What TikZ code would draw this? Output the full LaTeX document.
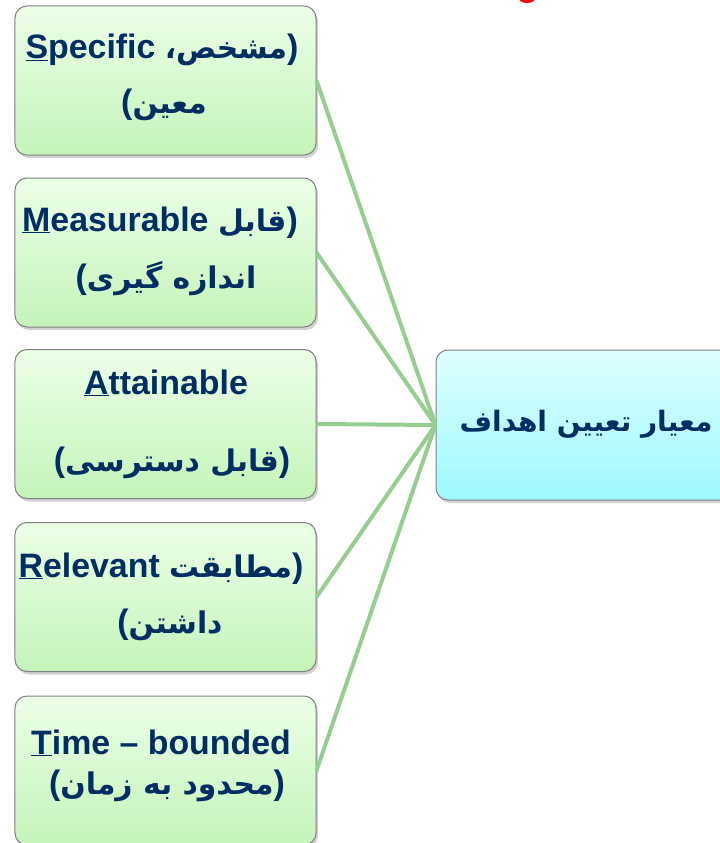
\documentclass[tikz,border=0pt]{standalone}
\usepackage{fontspec}
\setmainfont{Liberation Sans}
\newfontfamily\arfont[Script=Arabic,Scale=0.88]{DejaVu Sans}
\TeXXeTstate=1
\usetikzlibrary{shadows}
\definecolor{navy}{RGB}{0,46,98}
\definecolor{gtop}{RGB}{236,255,232}
\definecolor{gbot}{RGB}{196,244,186}
\definecolor{ctop}{RGB}{222,255,255}
\definecolor{cbot}{RGB}{158,248,255}
\definecolor{link}{RGB}{150,206,145}
\definecolor{frame}{RGB}{128,128,128}
\begin{document}
\begin{tikzpicture}[x=1bp,y=-1bp,
  card/.style={draw=frame, line width=1bp, rounded corners=12bp,
    minimum width=301bp, minimum height=149bp, inner sep=0pt,
    drop shadow={opacity=0.35, shadow xshift=2bp, shadow yshift=-3bp}},
  greencard/.style={card, top color=gtop, bottom color=gbot},
  cyancard/.style={card, top color=ctop, bottom color=cbot, minimum width=324bp, minimum height=150bp},
  lbl/.style={inner sep=0pt, anchor=base, text=navy,
    font=\bfseries\fontsize{34}{41}\selectfont},
  connector/.style={draw=link, line width=4bp}
]
\useasboundingbox (0,0) rectangle (720,843);
\clip (0,0) rectangle (720,843);
\fill[white] (0,0) rectangle (720,843);
% partial red fragment of a cut-off title
\fill[red] (527,-3) ellipse [x radius=9bp, y radius=6bp];

\node[greencard] (b1) at (165.5,80.5) {};
\node[greencard] (b2) at (165.5,252.5) {};
\node[greencard] (b3) at (165.5,424) {};
\node[greencard] (b4) at (165.5,597) {};
\node[greencard] (b5) at (165.5,770.5) {};
\node[cyancard] (goal) at (598,425) {};

\foreach \b in {b1,b2,b3,b4,b5}
  \draw[connector] (\b.east) -- (goal.west);

\node[lbl] (t1a) at (162,58) {\underline{S}pecific {\arfont\beginR مشخص،\endR})};
\node[lbl] (t1b) at (164,113) {({\arfont\beginR معین\endR}};
\node[lbl] (t2a) at (160,231) {\underline{M}easurable {\arfont\beginR قابل\endR})};
\node[lbl] (t2b) at (166,288) {({\arfont\beginR اندازه گیری\endR}};
\node[lbl] (t3a) at (166,394) {\underline{A}ttainable};
\node[lbl] (t3b) at (172,471) {({\arfont\beginR قابل دسترسی\endR})};
\node[lbl] (t4a) at (161,577) {\underline{R}elevant {\arfont\beginR مطابقت\endR})};
\node[lbl] (t4b) at (170,633) {({\arfont\beginR داشتن\endR}};
\node[lbl] (t5a) at (161,754) {\underline{T}ime -- bounded};
\node[lbl] (t5b) at (167,794) {({\arfont\beginR محدود به زمان\endR})};
\node[lbl, font=\bfseries\fontsize{32}{38}\selectfont] (tg) at (586,431) {\arfont\beginR معیار تعیین اهداف\endR};
\end{tikzpicture}
\end{document}
